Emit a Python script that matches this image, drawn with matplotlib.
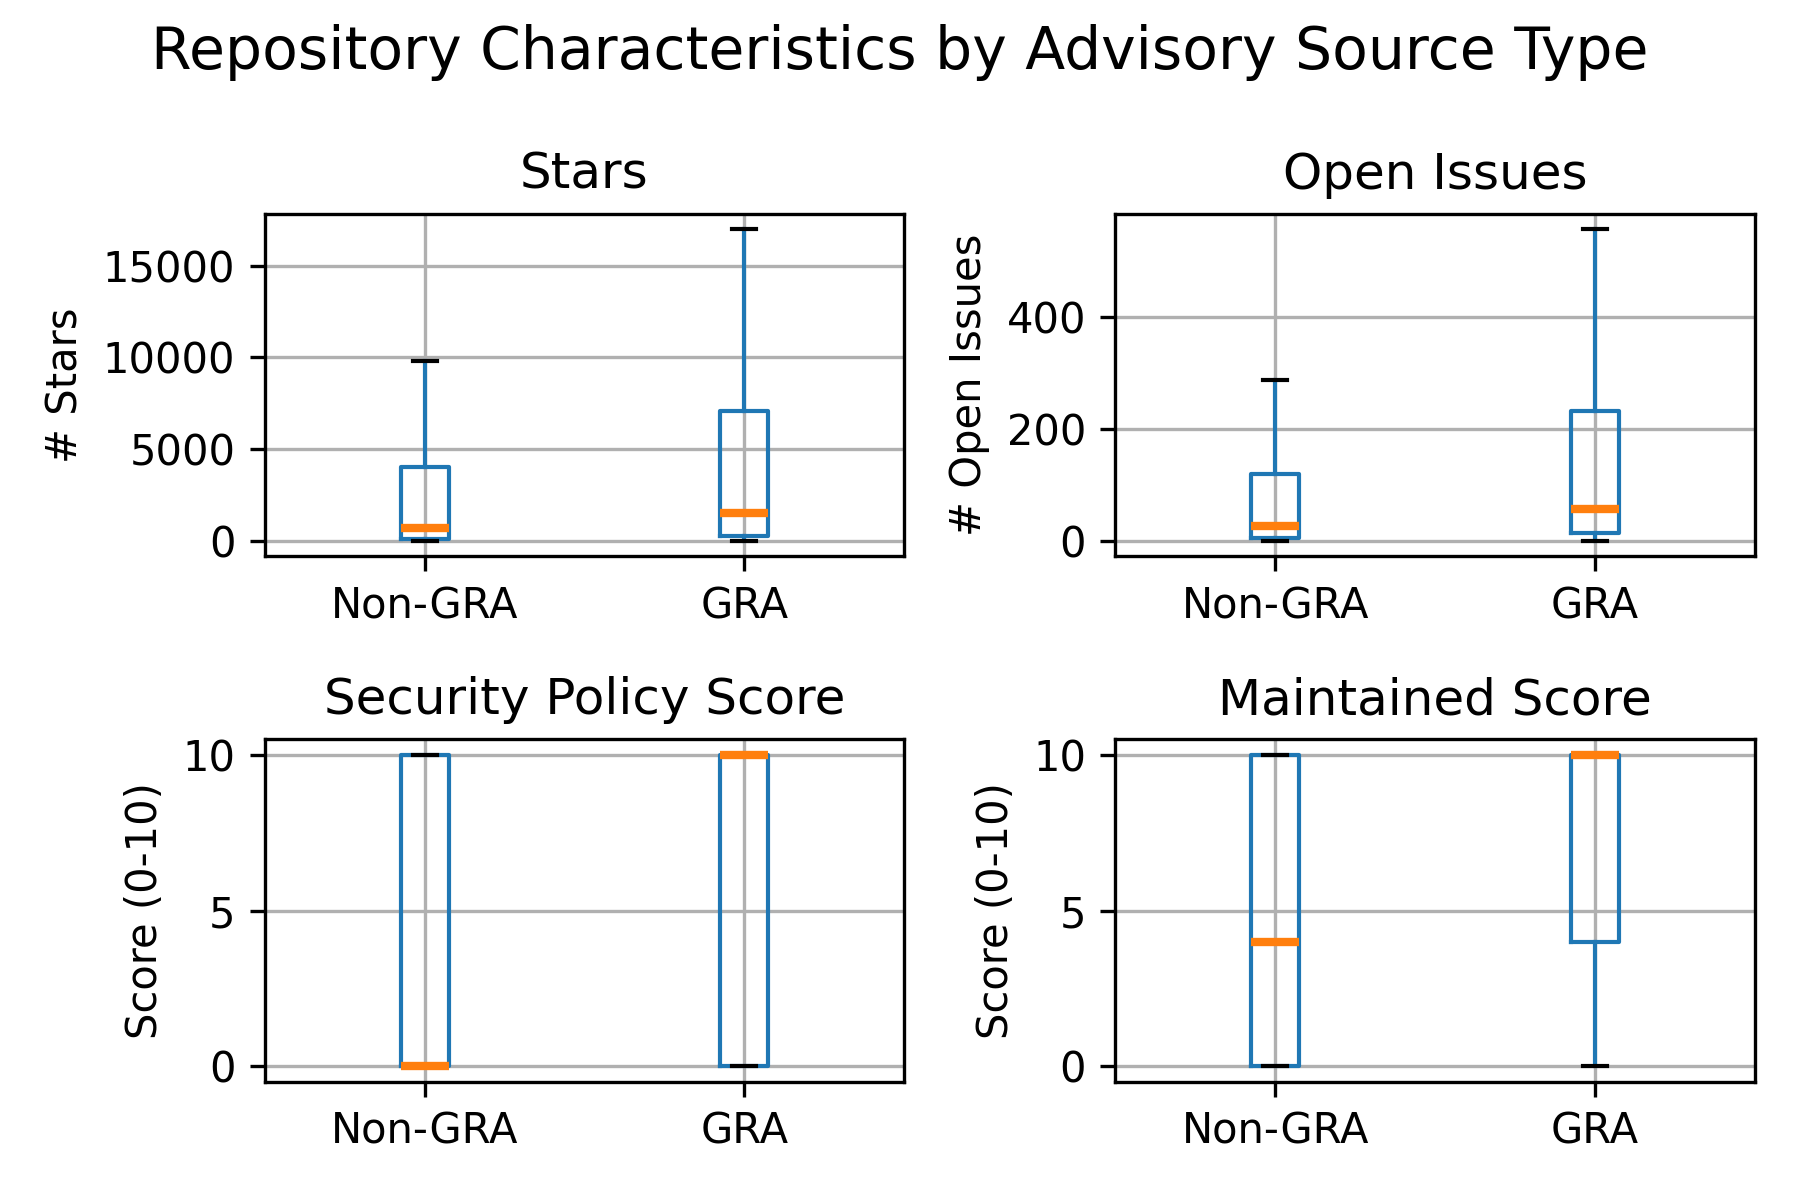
import matplotlib
matplotlib.use("Agg")
import matplotlib.pyplot as plt

# groups on the x axis
groups = ['Non-GRA', 'GRA']

# box statistics (no fliers shown)
stars_lo = [0, 0]
stars_q1 = [80, 250]
stars_med = [680, 1480]
stars_q3 = [4000, 7050]
stars_hi = [9800, 17000]

issues_lo = [0, 0]
issues_q1 = [4, 13]
issues_med = [26, 56]
issues_q3 = [119, 232]
issues_hi = [287, 558]

secpol_lo = [0, 0]
secpol_q1 = [0, 0]
secpol_med = [0, 10]
secpol_q3 = [10, 10]
secpol_hi = [10, 10]

maint_lo = [0, 0]
maint_q1 = [0, 4]
maint_med = [4, 10]
maint_q3 = [10, 10]
maint_hi = [10, 10]

panels = [
    ('Stars', '# Stars', stars_lo, stars_q1, stars_med, stars_q3, stars_hi),
    ('Open Issues', '# Open Issues', issues_lo, issues_q1, issues_med, issues_q3, issues_hi),
    ('Security Policy Score', 'Score (0-10)', secpol_lo, secpol_q1, secpol_med, secpol_q3, secpol_hi),
    ('Maintained Score', 'Score (0-10)', maint_lo, maint_q1, maint_med, maint_q3, maint_hi),
]

fig, axes = plt.subplots(2, 2, figsize=(6, 4), dpi=300)

for ax, (title, ylabel, lo, q1, med, q3, hi) in zip(axes.flat, panels):
    stats = []
    for i, g in enumerate(groups):
        stats.append({'label': g, 'whislo': lo[i], 'q1': q1[i], 'med': med[i],
                      'q3': q3[i], 'whishi': hi[i], 'fliers': []})
    ax.bxp(stats, showfliers=False,
           boxprops=dict(color='#1f77b4'),
           whiskerprops=dict(color='#1f77b4'),
           capprops=dict(color='black'),
           medianprops=dict(color='#ff7f0e', linewidth=2))
    ax.set_xlim(0.5, 2.5)
    ax.grid(True)
    ax.set_title(title)
    ax.set_ylabel(ylabel)

fig.suptitle('Repository Characteristics by Advisory Source Type', fontsize=14, y=0.98)
fig.subplots_adjust(left=0.147, right=0.975, top=0.822, bottom=0.0985,
                    wspace=0.33, hspace=0.535)
fig.savefig('out.png')
